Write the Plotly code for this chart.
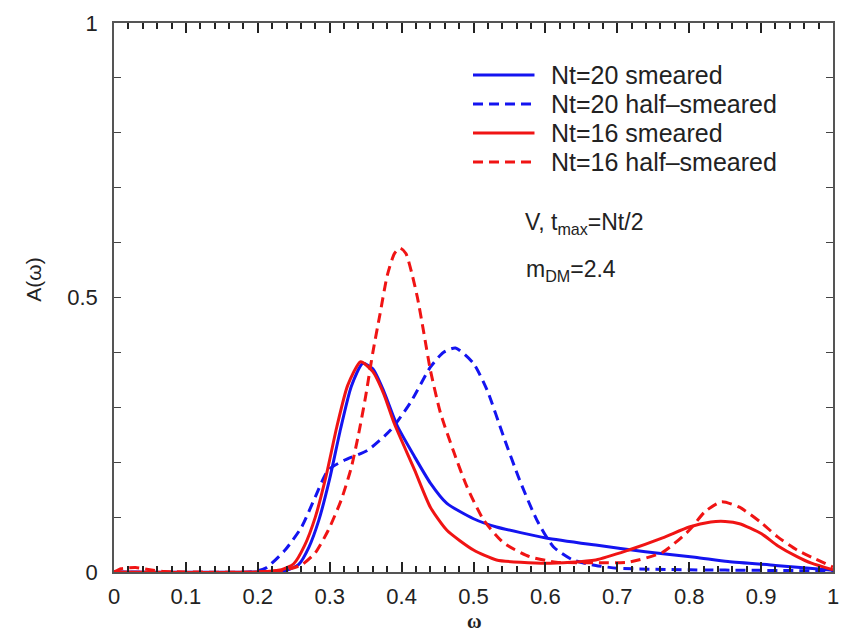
import plotly.graph_objects as go

# Spectral functions A(omega) for the vector channel, four smearing set-ups
series_names = ["Nt=20 smeared", "Nt=20 half\u2013smeared", "Nt=16 smeared", "Nt=16 half\u2013smeared"]

w_nt20_smeared = [0.0, 0.20, 0.24, 0.257, 0.271, 0.285, 0.30, 0.315, 0.33, 0.346, 0.36, 0.375,
                  0.394, 0.418, 0.44, 0.463, 0.50, 0.532, 0.601, 0.67, 0.739, 0.808, 0.854, 0.92, 0.992, 1.0]
a_nt20_smeared = [0.0, 0.0, 0.003, 0.014, 0.045, 0.095, 0.17, 0.26, 0.338, 0.38, 0.37, 0.33,
                  0.266, 0.21, 0.162, 0.125, 0.097, 0.082, 0.062, 0.049, 0.037, 0.027, 0.019, 0.012, 0.004, 0.003]

w_nt20_half = [0.0, 0.19, 0.211, 0.238, 0.261, 0.28, 0.298, 0.321, 0.353, 0.385, 0.412, 0.44, 0.458,
               0.475, 0.50, 0.519, 0.542, 0.564, 0.588, 0.611, 0.638, 0.67, 0.70, 0.80, 0.90, 1.0]
a_nt20_half = [0.0, 0.0, 0.007, 0.04, 0.082, 0.137, 0.186, 0.204, 0.222, 0.259, 0.308, 0.373, 0.40,
               0.408, 0.38, 0.331, 0.246, 0.168, 0.095, 0.046, 0.022, 0.012, 0.007, 0.004, 0.003, 0.002]

w_nt16_smeared = [0.0, 0.20, 0.233, 0.25, 0.265, 0.28, 0.295, 0.31, 0.325, 0.343, 0.36, 0.375, 0.39,
                  0.418, 0.44, 0.463, 0.50, 0.532, 0.601, 0.67, 0.716, 0.763, 0.80, 0.83, 0.85, 0.87,
                  0.90, 0.923, 0.95, 0.97, 1.0]
a_nt16_smeared = [0.0, 0.0, 0.004, 0.015, 0.048, 0.10, 0.175, 0.265, 0.34, 0.383, 0.365, 0.325, 0.27,
                  0.186, 0.118, 0.076, 0.04, 0.022, 0.016, 0.022, 0.04, 0.062, 0.082, 0.091, 0.092, 0.088,
                  0.07, 0.048, 0.028, 0.016, 0.004]

w_nt16_half = [0.0, 0.01, 0.03, 0.05, 0.07, 0.20, 0.238, 0.261, 0.28, 0.298, 0.316, 0.33, 0.34, 0.35,
               0.36, 0.37, 0.38, 0.39, 0.398, 0.406, 0.414, 0.422, 0.431, 0.44, 0.454, 0.473, 0.491,
               0.514, 0.542, 0.578, 0.615, 0.67, 0.716, 0.763, 0.80, 0.822, 0.845, 0.87, 0.90, 0.923,
               0.95, 0.97, 1.0]
a_nt16_half = [0.0, 0.006, 0.008, 0.004, 0.001, 0.0, 0.004, 0.013, 0.035, 0.076, 0.131, 0.19, 0.25, 0.32,
               0.40, 0.47, 0.54, 0.58, 0.59, 0.58, 0.545, 0.50, 0.435, 0.368, 0.29, 0.217, 0.155,
               0.095, 0.053, 0.028, 0.018, 0.017, 0.018, 0.036, 0.076, 0.11, 0.128, 0.118, 0.09, 0.064,
               0.04, 0.027, 0.009]

x_ticks = [0, 0.1, 0.2, 0.3, 0.4, 0.5, 0.6, 0.7, 0.8, 0.9, 1]
x_tick_text = ["0", "0.1", "0.2", "0.3", "0.4", "0.5", "0.6", "0.7", "0.8", "0.9", "1"]
x_minor = [i / 50 for i in range(51)]
y_ticks = [0, 0.5, 1]
y_tick_text = ["0", "0.5", "1"]
y_minor = [i / 10 for i in range(11)]

BLUE = "#1414f0"
RED = "#f01414"
DASH = "10px,6px"
styles = [(BLUE, "solid"), (BLUE, DASH), (RED, "solid"), (RED, DASH)]
curves = [(w_nt20_smeared, a_nt20_smeared), (w_nt20_half, a_nt20_half),
          (w_nt16_smeared, a_nt16_smeared), (w_nt16_half, a_nt16_half)]

W, H = 842, 632
L, R, T, B = 114, 3, 23, 60
PW, PH = W - L - R, H - T - B


def px(x):
    return (x - L) / PW


def py(y):
    return (H - B - y) / PH


fig = go.Figure()
for name, (xs, ys), (col, dash) in zip(series_names, curves, styles):
    fig.add_trace(go.Scatter(x=xs, y=ys, mode="lines", name=name, showlegend=False,
                             line=dict(color=col, width=3, dash=dash, shape="spline", smoothing=0.6)))

FONT = "Liberation Sans, Arial, sans-serif"
shapes = []
annotations = []

legend_rows = [75, 104, 133, 162]
for (col, dash), name, ry in zip(styles, series_names, legend_rows):
    shapes.append(dict(type="line", xref="paper", yref="paper", x0=px(476), x1=px(538),
                       y0=py(ry), y1=py(ry), line=dict(color=col, width=3, dash=dash)))
    annotations.append(dict(text=name, xref="paper", yref="paper", x=px(553), y=py(ry),
                            xanchor="left", yanchor="middle", showarrow=False,
                            font=dict(family=FONT, size=25, color="#222")))

annotations += [
    dict(text="V, t<sub>max</sub>=Nt/2", xref="paper", yref="paper", x=px(526), y=py(223),
         xanchor="left", yanchor="middle", showarrow=False, font=dict(family=FONT, size=23, color="#222")),
    dict(text="m<sub>DM</sub>=2.4", xref="paper", yref="paper", x=px(527), y=py(270),
         xanchor="left", yanchor="middle", showarrow=False, font=dict(family=FONT, size=23, color="#222")),
    dict(text="A(\u03c9)", xref="paper", yref="paper", x=px(32), y=py(280), textangle=-90,
         xanchor="center", yanchor="middle", showarrow=False, font=dict(family=FONT, size=21, color="#222")),
    dict(text="<b>\u03c9</b>", xref="paper", yref="paper", x=px(478), y=py(621),
         xanchor="center", yanchor="middle", showarrow=False,
         font=dict(family="Liberation Serif, Times New Roman, serif", size=20, color="#222")),
]

tick_font = dict(family=FONT, size=22, color="#222")
fig.update_layout(
    width=W, height=H,
    margin=dict(l=L, r=R, t=T, b=B, pad=0),
    plot_bgcolor="white", paper_bgcolor="white",
    shapes=shapes, annotations=annotations,
    xaxis=dict(range=[0, 1], tickmode="array", tickvals=x_ticks, ticktext=x_tick_text,
               ticks="inside", ticklen=10, tickwidth=2, tickcolor="#222",
               showline=True, linecolor="#555", linewidth=1.5, mirror="allticks",
               showgrid=False, zeroline=False, ticklabeloverflow="allow",
               ticklabelstandoff=4, tickfont=tick_font,
               minor=dict(tickmode="array", tickvals=x_minor, ticks="inside", ticklen=6,
                          tickwidth=2, tickcolor="#222", showgrid=False)),
    yaxis=dict(range=[0, 1], tickmode="array", tickvals=y_ticks, ticktext=y_tick_text,
               ticks="inside", ticklen=7, tickwidth=1.2, tickcolor="#444",
               showline=True, linecolor="#555", linewidth=1.5, mirror="allticks",
               showgrid=False, zeroline=False, ticklabelstandoff=10, ticklabeloverflow="allow",
               tickfont=tick_font,
               minor=dict(tickmode="array", tickvals=y_minor, ticks="inside", ticklen=7,
                          tickwidth=1, tickcolor="#444", showgrid=False)),
)

fig.write_html("out.html")
